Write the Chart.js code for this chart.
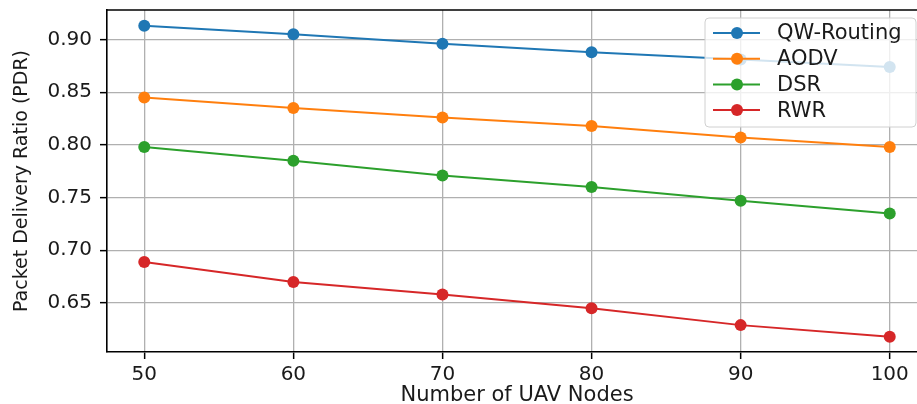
<!DOCTYPE html>
<html>
<head>
<meta charset="utf-8">
<script src="https://cdn.jsdelivr.net/npm/chart.js@4/dist/chart.umd.min.js"></script>
<style>
html,body{margin:0;padding:0;overflow:hidden;background:#fff;}
#wrap{width:940px;height:404px;}
</style>
</head>
<body>
<div id="wrap"><canvas id="c" width="940" height="404"></canvas></div>
<script>
const nodes = [50, 60, 70, 80, 90, 100];
const qwRouting = [0.913, 0.905, 0.896, 0.888, 0.881, 0.874];
const aodv = [0.845, 0.835, 0.826, 0.818, 0.807, 0.798];
const dsr = [0.798, 0.785, 0.771, 0.760, 0.747, 0.735];
const rwr = [0.689, 0.670, 0.658, 0.645, 0.629, 0.618];
const seriesNames = ['QW-Routing', 'AODV', 'DSR', 'RWR'];
const xTicks = [50, 60, 70, 80, 90, 100];
const yTicks = [0.65, 0.70, 0.75, 0.80, 0.85, 0.90];

const colors = ['#1f77b4', '#ff7f0e', '#2ca02c', '#d62728'];
const seriesValues = [qwRouting, aodv, dsr, rwr];
const FONT = "'DejaVu Sans', sans-serif";

const datasets = seriesNames.map((name, i) => ({
  label: name,
  data: nodes.map((n, j) => ({x: n, y: seriesValues[i][j]})),
  borderColor: colors[i],
  backgroundColor: colors[i],
  pointBackgroundColor: colors[i],
  pointBorderWidth: 0,
  pointRadius: 6,
  borderWidth: 2,
  fill: false,
  tension: 0
}));

const framePlugin = {
  id: 'frame',
  afterDraw(chart) {
    const {ctx, chartArea: a} = chart;
    ctx.save();
    ctx.strokeStyle = '#000';
    ctx.lineWidth = 1.6;
    ctx.beginPath();
    ctx.moveTo(a.left, a.top);
    ctx.lineTo(a.right, a.top);
    ctx.lineTo(a.right, a.bottom);
    ctx.stroke();
    ctx.restore();
  }
};

const legendPlugin = {
  id: 'boxLegend',
  afterDatasetsDraw(chart) {
    const {ctx, chartArea: a} = chart;
    const x1 = a.right - 222, y1 = a.top + 8, w = 211, h = 109, r = 4;
    ctx.save();
    ctx.beginPath();
    ctx.moveTo(x1 + r, y1);
    ctx.lineTo(x1 + w - r, y1);
    ctx.quadraticCurveTo(x1 + w, y1, x1 + w, y1 + r);
    ctx.lineTo(x1 + w, y1 + h - r);
    ctx.quadraticCurveTo(x1 + w, y1 + h, x1 + w - r, y1 + h);
    ctx.lineTo(x1 + r, y1 + h);
    ctx.quadraticCurveTo(x1, y1 + h, x1, y1 + h - r);
    ctx.lineTo(x1, y1 + r);
    ctx.quadraticCurveTo(x1, y1, x1 + r, y1);
    ctx.closePath();
    ctx.fillStyle = 'rgba(255,255,255,0.8)';
    ctx.fill();
    ctx.strokeStyle = '#d0d0d0';
    ctx.lineWidth = 1;
    ctx.stroke();
    chart.data.datasets.forEach((ds, i) => {
      const y = y1 + 15 + i * 25.7;
      ctx.strokeStyle = ds.borderColor;
      ctx.lineWidth = 2;
      ctx.beginPath();
      ctx.moveTo(x1 + 8, y);
      ctx.lineTo(x1 + 55, y);
      ctx.stroke();
      ctx.fillStyle = ds.borderColor;
      ctx.beginPath();
      ctx.arc(x1 + 32, y, 6, 0, Math.PI * 2);
      ctx.fill();
      ctx.fillStyle = '#1a1a1a';
      ctx.font = '21px ' + FONT;
      ctx.textAlign = 'left';
      ctx.textBaseline = 'middle';
      ctx.fillText(ds.label, x1 + 72, y + 1);
    });
    ctx.restore();
  }
};

new Chart(document.getElementById('c'), {
  type: 'line',
  data: {datasets},
  options: {
    responsive: false,
    animation: false,
    devicePixelRatio: 1,
    layout: {padding: {left: 0, top: 10, right: 13, bottom: 0}},
    plugins: {legend: {display: false}, tooltip: {enabled: false}},
    scales: {
      x: {
        type: 'linear',
        min: 47.5,
        max: 102.5,
        afterBuildTicks: s => { s.ticks = xTicks.map(v => ({value: v})); },
        afterFit: s => { s.height = 52; s.paddingLeft = 0; s.paddingRight = 0; },
        ticks: {
          color: '#1a1a1a',
          font: {family: FONT, size: 20},
          padding: 4,
          maxRotation: 0,
          callback: v => String(v)
        },
        grid: {color: '#b0b0b0', lineWidth: 1.3, tickLength: 7, tickColor: '#000', tickWidth: 1.5},
        border: {display: true, color: '#000', width: 1.6},
        title: {display: true, text: 'Number of UAV Nodes', color: '#1a1a1a',
          font: {family: FONT, size: 21}, padding: {top: 0, bottom: -4}}
      },
      y: {
        type: 'linear',
        min: 0.6035,
        max: 0.928,
        afterBuildTicks: s => { s.ticks = yTicks.map(v => ({value: v})); },
        afterFit: s => { s.width = 107; s.paddingTop = 0; s.paddingBottom = 0; },
        ticks: {
          color: '#1a1a1a',
          font: {family: FONT, size: 20},
          padding: 8,
          callback: v => Number(v).toFixed(2)
        },
        grid: {color: '#b0b0b0', lineWidth: 1.3, tickLength: 7, tickColor: '#000', tickWidth: 1.5},
        border: {display: true, color: '#000', width: 1.6},
        title: {display: true, text: 'Packet Delivery Ratio (PDR)', color: '#1a1a1a',
          font: {family: FONT, size: 19}, padding: {top: 11, bottom: 0}}
      }
    }
  },
  plugins: [framePlugin, legendPlugin]
});
</script>
</body>
</html>
